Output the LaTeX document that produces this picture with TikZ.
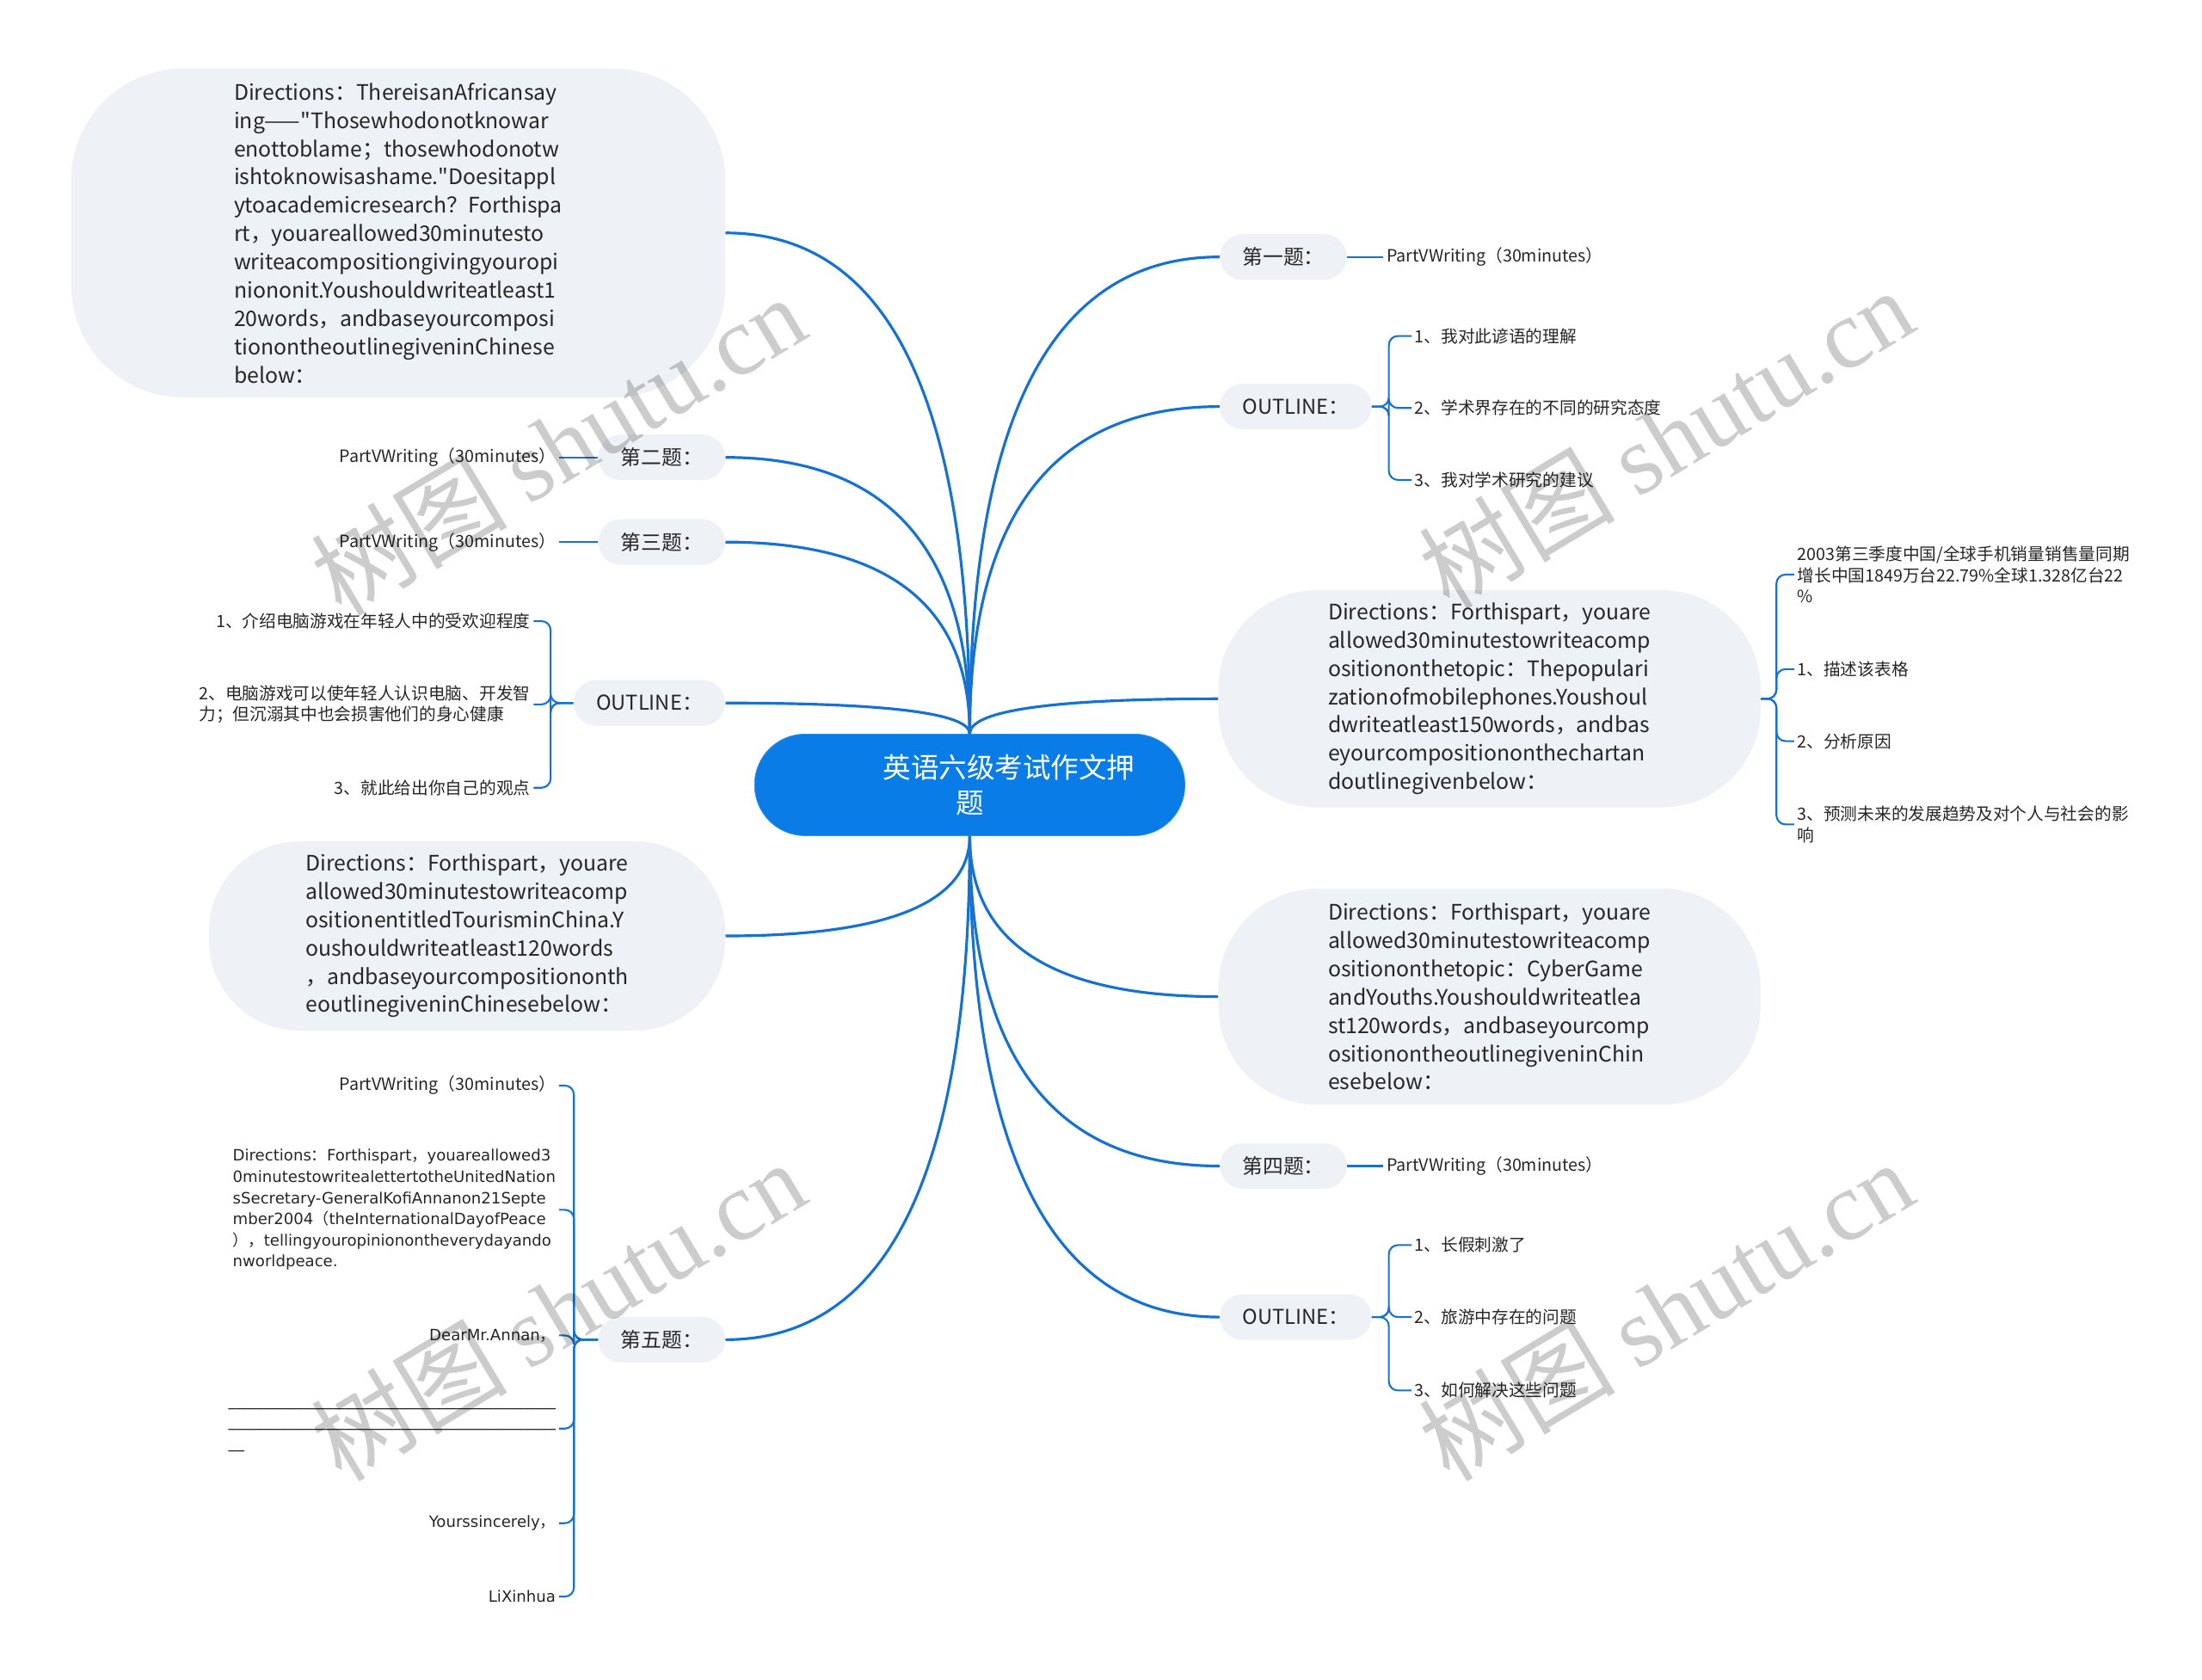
\documentclass[tikz,border=0pt]{standalone}
\usepackage{fontspec}
\setmainfont{Noto Sans CJK SC}
\newfontfamily\vfont{DejaVu Sans}
\newfontfamily\wmfont{Liberation Serif}
\usetikzlibrary{positioning,calc}
\definecolor{linkblue}{RGB}{22,114,210}
\definecolor{rootblue}{RGB}{10,124,232}
\definecolor{boxgray}{RGB}{238,241,245}
% curved branch from the centre to a topic
\newcommand{\branchto}[2]{\draw[branch] (#1) .. controls ($(#1)!0.667!(#1 |- #2)$) and ($(#2)!0.667!(#1 |- #2)$) .. (#2);}

\begin{document}
\begin{tikzpicture}[x=0.0328cm,y=-0.0328cm,
    root/.style={fill=rootblue, draw=rootblue!85!white, text=white, rounded corners=1.17cm,
      minimum width=10cm, minimum height=2.36cm, align=center, font=\fontsize{18.5}{23}\selectfont},
    topic/.style={fill=boxgray, rounded corners=0.53cm, minimum height=1.06cm, inner xsep=15pt,
      text=black!85, font=\fontsize{13.5}{16}\selectfont},
    bigbox/.style={fill=boxgray, rounded corners=2.3cm, align=left, text=black!85,
      font=\fontsize{14.1}{18.7}\selectfont},
    leaf/.style={inner sep=2pt, align=left, text=black!85, font=\fontsize{11.2}{14}\selectfont},
    vleaf/.style={inner sep=2pt, align=left, text=black!85, font=\vfont\fontsize{10.3}{14}\selectfont},
    branch/.style={draw=linkblue, line width=1.8pt},
    twig/.style={draw=linkblue, line width=1.2pt, rounded corners=6pt},
    wmark/.style={rotate=31, text=black, opacity=0.2, font=\fontsize{65}{68}\selectfont}]

  % page
  \fill[white] (0,0) rectangle (1560,1190);

  % centre
  \node[root] (root) at (687,556) {\hspace*{52pt}英语六级考试作文押\\题};

  % first question
  \node[topic, anchor=west] (q1) at (864,182) {第一题：};
  \node[leaf, anchor=west] (q1a) at (980,182) {PartVWriting（30minutes）};

  % outline of the first question
  \node[topic, anchor=west] (out1) at (864,288) {OUTLINE：};
  \node[leaf, anchor=west] (out1a) at (1000,238) {1、我对此谚语的理解};
  \node[leaf, anchor=west] (out1b) at (1000,289) {2、学术界存在的不同的研究态度};
  \node[leaf, anchor=west] (out1c) at (1000,340) {3、我对学术研究的建议};

  % mobile phones
  \node[bigbox, anchor=west, minimum width=12.6cm, minimum height=5.05cm] (mob) at (863,495)
    {Directions：Forthispart，youare\\allowed30minutestowriteacomp\\ositiononthetopic：Thepopulari\\zationofmobilephones.Youshoul\\dwriteatleast150words，andbas\\eyourcompositiononthechartan\\doutlinegivenbelow：};
  \node[leaf, anchor=west] (moba) at (1271,407) {2003第三季度中国/全球手机销量销售量同期\\增长中国1849万台22.79\%全球1.328亿台22\\\%};
  \node[leaf, anchor=west] (mobb) at (1271,474) {1、描述该表格};
  \node[leaf, anchor=west] (mobc) at (1271,525) {2、分析原因};
  \node[leaf, anchor=west] (mobd) at (1271,584) {3、预测未来的发展趋势及对个人与社会的影\\响};

  % cyber game
  \node[bigbox, anchor=west, minimum width=12.6cm, minimum height=5.02cm] (cyber) at (863,706)
    {Directions：Forthispart，youare\\allowed30minutestowriteacomp\\ositiononthetopic：CyberGame\\andYouths.Youshouldwriteatlea\\st120words，andbaseyourcomp\\ositionontheoutlinegiveninChin\\esebelow：};

  % fourth question
  \node[topic, anchor=west] (q4) at (864,826) {第四题：};
  \node[leaf, anchor=west] (q4a) at (980,826) {PartVWriting（30minutes）};

  % outline of tourism
  \node[topic, anchor=west] (out2) at (864,933) {OUTLINE：};
  \node[leaf, anchor=west] (out2a) at (1000,882) {1、长假刺激了};
  \node[leaf, anchor=west] (out2b) at (1000,933) {2、旅游中存在的问题};
  \node[leaf, anchor=west] (out2c) at (1000,985) {3、如何解决这些问题};

  % african saying
  \node[bigbox, anchor=east, minimum width=15.2cm, minimum height=7.64cm, rounded corners=2.6cm] (afr) at (514,165)
    {Directions：ThereisanAfricansay\\ing——\textquotedbl Thosewhodonotknowar\\enottoblame；thosewhodonotw\\ishtoknowisashame.\textquotedbl Doesitappl\\ytoacademicresearch？Forthispa\\rt，youareallowed30minutesto\\writeacompositiongivingyouropi\\niononit.Youshouldwriteatleast1\\20words，andbaseyourcomposi\\tionontheoutlinegiveninChinese\\below：};

  % second and third question
  \node[topic, anchor=east] (q2) at (514,324) {第二题：};
  \node[leaf, anchor=east] (q2a) at (396,324) {PartVWriting（30minutes）};
  \node[topic, anchor=east] (q3) at (514,384) {第三题：};
  \node[leaf, anchor=east] (q3a) at (396,384) {PartVWriting（30minutes）};

  % outline of computer games
  \node[topic, anchor=east] (out3) at (514,498) {OUTLINE：};
  \node[leaf, anchor=east] (out3a) at (378,440) {1、介绍电脑游戏在年轻人中的受欢迎程度};
  \node[leaf, anchor=east] (out3b) at (378,499) {2、电脑游戏可以使年轻人认识电脑、开发智\\力；但沉溺其中也会损害他们的身心健康};
  \node[leaf, anchor=east] (out3c) at (378,558) {3、就此给出你自己的观点};

  % tourism
  \node[bigbox, anchor=east, minimum width=12cm, minimum height=4.4cm, rounded corners=2.1cm] (tour) at (514,663)
    {Directions：Forthispart，youare\\allowed30minutestowriteacomp\\ositionentitledTourisminChina.Y\\oushouldwriteatleast120words\\，andbaseyourcompositiononth\\eoutlinegiveninChinesebelow：};

  % fifth question
  \node[topic, anchor=east] (q5) at (514,949) {第五题：};
  \node[leaf, anchor=east] (q5a) at (396,769) {PartVWriting（30minutes）};
  \node[vleaf, anchor=east] (q5b) at (396,857)
    {Directions{\rmfamily ：}Forthispart{\rmfamily ，}youareallowed3\\0minutestowritealettertotheUnitedNation\\sSecretary-GeneralKofiAnnanon21Septe\\mber2004{\rmfamily （}theInternationalDayofPeace\\{\rmfamily ），}tellingyouropinionontheverydayando\\nworldpeace.};
  \node[vleaf, anchor=east] (q5c) at (396,946) {DearMr.Annan{\rmfamily ，}};
  \node[vleaf, anchor=east] (q5d) at (396,1012)
    {\_\_\_\_\_\_\_\_\_\_\_\_\_\_\_\_\_\_\_\_\_\_\_\_\_\_\_\_\_\_\_\_\_\_\_\_\_\_\_\_\_\_\\\_\_\_\_\_\_\_\_\_\_\_\_\_\_\_\_\_\_\_\_\_\_\_\_\_\_\_\_\_\_\_\_\_\_\_\_\_\_\_\_\_\_\\\_\_};
  \node[vleaf, anchor=east] (q5e) at (396,1079) {Yourssincerely{\rmfamily ，}};
  \node[vleaf, anchor=east] (q5f) at (396,1131) {LiXinhua};

  % branches from the centre
  \branchto{root.north}{q1.west}
  \branchto{root.north}{out1.west}
  \branchto{root.north}{mob.west}
  \branchto{root.north}{afr.east}
  \branchto{root.north}{q2.east}
  \branchto{root.north}{q3.east}
  \branchto{root.north}{out3.east}
  \branchto{root.south}{cyber.west}
  \branchto{root.south}{q4.west}
  \branchto{root.south}{out2.west}
  \branchto{root.south}{tour.east}
  \branchto{root.south}{q5.east}

  % right twigs
  \draw[twig] (q1.east) -- (q1a.west);
  \draw[twig] (q4.east) -- (q4a.west);
  \foreach \c in {out1a,out1b,out1c}
    \draw[twig] (out1.east) -- ++(12,0) |- (\c.west);
  \foreach \c in {moba,mobb,mobc,mobd}
    \draw[twig] (mob.east) -- ++(11,0) |- (\c.west);
  \foreach \c in {out2a,out2b,out2c}
    \draw[twig] (out2.east) -- ++(12,0) |- (\c.west);

  % left twigs
  \draw[twig] (q2.west) -- (q2a.east);
  \draw[twig] (q3.west) -- (q3a.east);
  \foreach \c in {out3a,out3b,out3c}
    \draw[twig] (out3.west) -- ++(-16,0) |- (\c.east);
  \foreach \c in {q5a,q5b,q5c,q5d,q5e,q5f}
    \draw[twig] (q5.west) -- ++(-17,0) |- (\c.east);

  % watermark
  \foreach \p [count=\i] in {(395,315),(1180,310),(395,928),(1180,928)}
    \node[wmark] (wm\i) at \p {树图 {\wmfont shutu.cn}};
\end{tikzpicture}
\end{document}
